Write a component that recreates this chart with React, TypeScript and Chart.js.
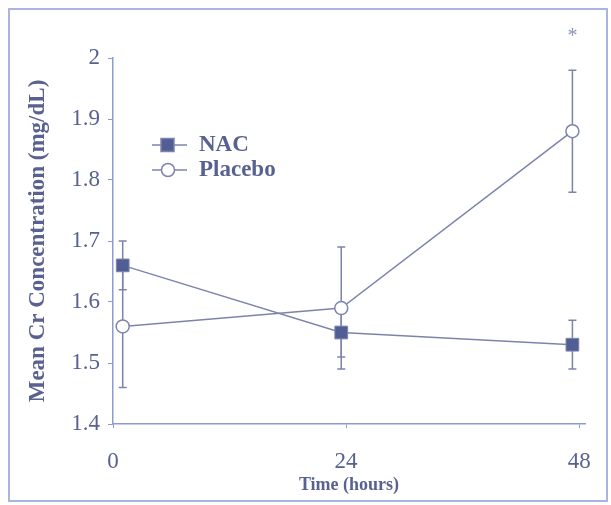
import React, { useEffect, useRef } from "react";
import { Chart, registerables } from "chart.js";

Chart.register(...registerables);

// ---- data ----
const timeHours = [1, 23.5, 47.3];
const xTickValues = [0, 24, 48];
const nacMean = [1.66, 1.55, 1.53];
const nacErr = [0.04, 0.04, 0.04];
const placeboMean = [1.56, 1.59, 1.88];
const placeboErr = [0.1, 0.1, 0.1];
const seriesNames = ["NAC", "Placebo"];
const significance = [{ x: 47.3, y: 2.04, text: "*" }];

const FONT = "'Liberation Serif', 'Times New Roman', serif";
const TEXT = "#58618f";
const AXIS = "#8e9bd2";
const LINE = "#7c84ae";
const FILL = "#515d95";
const FRAME = "#a9b4e0";

const errorBarPlugin = {
  id: "errorBars",
  beforeDatasetsDraw(chart: any) {
    const { ctx, scales } = chart;
    const xs = scales.x, ys = scales.y;
    const sets = [
      { m: nacMean, e: nacErr },
      { m: placeboMean, e: placeboErr },
    ];
    ctx.save();
    ctx.strokeStyle = LINE;
    ctx.lineWidth = 1.5;
    sets.forEach((s) => {
      timeHours.forEach((t, i) => {
        const x = xs.getPixelForValue(t);
        const y1 = ys.getPixelForValue(s.m[i] + s.e[i]);
        const y2 = ys.getPixelForValue(s.m[i] - s.e[i]);
        ctx.beginPath();
        ctx.moveTo(x, y1);
        ctx.lineTo(x, y2);
        ctx.moveTo(x - 4, y1);
        ctx.lineTo(x + 4, y1);
        ctx.moveTo(x - 4, y2);
        ctx.lineTo(x + 4, y2);
        ctx.stroke();
      });
    });
    ctx.restore();
  },
};

const decorPlugin = {
  id: "decor",
  beforeDraw(chart: any) {
    const { ctx, width, height } = chart;
    ctx.save();
    ctx.fillStyle = "#ffffff";
    ctx.fillRect(0, 0, width, height);
    ctx.strokeStyle = FRAME;
    ctx.lineWidth = 2;
    ctx.strokeRect(9, 9, width - 4 - 9, height - 4 - 9);
    ctx.restore();
  },
  afterDraw(chart: any) {
    const { ctx, scales } = chart;
    ctx.save();
    // significance marker
    ctx.fillStyle = "#8a92bb";
    ctx.font = `20px ${FONT}`;
    ctx.textAlign = "center";
    ctx.textBaseline = "middle";
    significance.forEach((s) => {
      ctx.fillText(s.text, scales.x.getPixelForValue(s.x), scales.y.getPixelForValue(s.y) + 3);
    });
    // legend
    const lx = 152, lw = 35, tx = 199;
    const rows = [145, 170];
    ctx.strokeStyle = LINE;
    ctx.lineWidth = 1.5;
    rows.forEach((y) => {
      ctx.beginPath();
      ctx.moveTo(lx, y);
      ctx.lineTo(lx + lw, y);
      ctx.stroke();
    });
    ctx.fillStyle = FILL;
    ctx.fillRect(161, rows[0] - 6.5, 13, 13);
    ctx.strokeRect(161, rows[0] - 6.5, 13, 13);
    ctx.beginPath();
    ctx.arc(168, rows[1], 6.5, 0, Math.PI * 2);
    ctx.fillStyle = "#ffffff";
    ctx.fill();
    ctx.stroke();
    ctx.fillStyle = TEXT;
    ctx.font = `bold 23px ${FONT}`;
    ctx.textAlign = "left";
    ctx.textBaseline = "middle";
    ctx.fillText(seriesNames[0], tx, rows[0]);
    ctx.fillText(seriesNames[1], tx, rows[1]);
    ctx.restore();
  },
};

export default function App() {
  const ref = useRef<HTMLCanvasElement>(null);
  useEffect(() => {
    if (!ref.current) return;
    const chart = new Chart(ref.current, {
      type: "line",
      data: {
        datasets: [
          {
            label: seriesNames[0],
            data: timeHours.map((t, i) => ({ x: t, y: nacMean[i] })),
            borderColor: LINE,
            borderWidth: 1.5,
            pointStyle: "rect",
            pointRadius: 9,
            pointBackgroundColor: FILL,
            pointBorderColor: LINE,
            pointBorderWidth: 1,
            tension: 0,
          },
          {
            label: seriesNames[1],
            data: timeHours.map((t, i) => ({ x: t, y: placeboMean[i] })),
            borderColor: LINE,
            borderWidth: 1.5,
            pointStyle: "circle",
            pointRadius: 6.5,
            pointBackgroundColor: "#ffffff",
            pointBorderColor: LINE,
            pointBorderWidth: 1.5,
            tension: 0,
          },
        ],
      },
      options: {
        responsive: false,
        animation: false,
        layout: { padding: { left: 0, top: 58, right: 24, bottom: 0 } },
        plugins: { legend: { display: false }, tooltip: { enabled: false } },
        scales: {
          x: {
            type: "linear",
            min: 0,
            max: 48.6,
            afterBuildTicks: (s: any) => {
              s.ticks = xTickValues.map((v) => ({ value: v }));
            },
            afterFit: (s: any) => {
              s.height = 81;
            },
            grid: { display: true, drawOnChartArea: false, drawTicks: true, tickLength: 4, color: AXIS },
            border: { color: AXIS, width: 1.5 },
            ticks: {
              padding: 20,
              maxRotation: 0,
              color: TEXT,
              font: { family: FONT, size: 23 },
              callback: (v: any) => String(v),
            },
            title: {
              display: true,
              text: "Time (hours)",
              color: TEXT,
              font: { family: FONT, size: 18, weight: "bold" },
              padding: { top: 0, bottom: 9 },
            },
          },
          y: {
            min: 1.4,
            max: 2,
            afterFit: (s: any) => {
              s.width = 113;
            },
            grid: { display: true, drawOnChartArea: false, drawTicks: true, tickLength: 5, color: AXIS },
            border: { color: AXIS, width: 1.5 },
            ticks: {
              stepSize: 0.1,
              padding: 8,
              color: TEXT,
              font: { family: FONT, size: 23 },
              callback: (v: any) => String(Number(Number(v).toFixed(1))),
            },
            title: {
              display: true,
              text: "Mean Cr Concentration (mg/dL)",
              color: TEXT,
              font: { family: FONT, size: 23, weight: "bold" },
              padding: { top: 24, bottom: 0 },
            },
          },
        },
      },
      plugins: [errorBarPlugin, decorPlugin],
    } as any);
    return () => chart.destroy();
  }, []);
  return (
    <div style={{ position: "absolute", left: 0, top: 0, width: 611, height: 505 }}>
      <canvas ref={ref} width={611} height={505} style={{ display: "block" }} />
    </div>
  );
}
